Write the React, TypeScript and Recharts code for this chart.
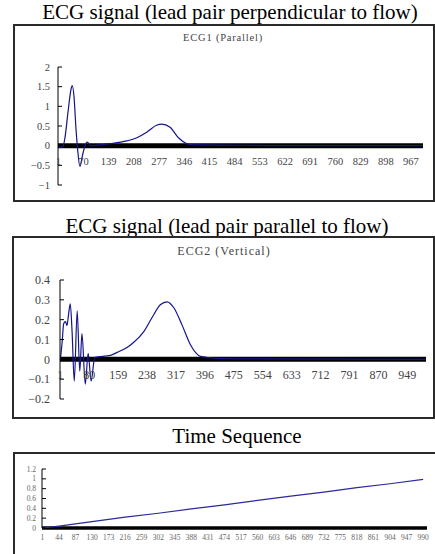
import { LineChart, Line, XAxis, YAxis, ReferenceLine } from 'recharts';

// sample index -> value
const ECG1_SAMPLE = [1, 8, 14, 19, 28, 36, 39, 44, 49, 54, 60, 67, 74, 80, 90, 142, 188, 216, 243, 270, 284, 307, 330, 353, 371, 507, 600, 1000];
const ECG1_VALUE = [0, -0.05, -0.02, 0.2, 0.9, 1.45, 1.53, 1.23, 0.47, -0.12, -0.53, -0.25, 0, 0.09, 0, 0.05, 0.12, 0.2, 0.34, 0.52, 0.55, 0.47, 0.2, 0.05, 0.02, 0.01, 0, 0];

const ECG2_SAMPLE = [1, 6, 10, 15, 19, 23, 28, 33, 39, 47, 54, 60, 69, 77, 85, 95, 138, 156, 183, 201, 229, 256, 274, 293, 311, 333, 356, 384, 429, 520, 1000];
const ECG2_VALUE = [0, 0.09, 0.18, 0.19, 0.17, 0.22, 0.28, 0.14, -0.11, 0.245, -0.06, 0.13, -0.125, 0.03, -0.11, 0.01, 0.02, 0.035, 0.06, 0.085, 0.14, 0.225, 0.275, 0.29, 0.26, 0.175, 0.075, 0.015, 0.005, 0.002, 0];

const TIME_SAMPLE = [1, 44, 130, 216, 302, 388, 474, 560, 646, 732, 818, 904, 990];
const TIME_VALUE = [0, 0.04, 0.13, 0.22, 0.3, 0.39, 0.47, 0.56, 0.65, 0.73, 0.82, 0.9, 0.99];

const ECG1_XTICKS = [1, 70, 139, 208, 277, 346, 415, 484, 553, 622, 691, 760, 829, 898, 967];
const ECG2_XTICKS = [1, 80, 159, 238, 317, 396, 475, 554, 633, 712, 791, 870, 949];
const TIME_XTICKS = [1, 44, 87, 130, 173, 216, 259, 302, 345, 388, 431, 474, 517, 560, 603, 646, 689, 732, 775, 818, 861, 904, 947, 990];

const ECG1_YTICKS = [-1, -0.5, 0, 0.5, 1, 1.5, 2];
const ECG2_YTICKS = [-0.2, -0.1, 0, 0.1, 0.2, 0.3, 0.4];
const TIME_YTICKS = [0, 0.2, 0.4, 0.6, 0.8, 1, 1.2];

const W = 435;
const SERIF = '"Liberation Serif", "Times New Roman", serif';
const LINE = '#14148c';

const toRows = (xs: number[], ys: number[]) => xs.map((x, i) => ({ x, y: ys[i] }));

const fmt = (v: number) => {
  const s = String(Math.round(Math.abs(v) * 10) / 10);
  return v < 0 ? '\u2212' + s : s;
};

interface PanelProps {
  top: number;
  height: number;
  plotLeft: number;
  plotRight: number;
  plotTop: number;
  plotBottom: number;
  data: { x: number; y: number }[];
  xTicks: number[];
  yTicks: number[];
  yDomain: [number, number];
  fontSize: number;
  textColor: string;
  labelGap: number;
  xLabelDy: number;
  band: number;
  curve: 'monotone' | 'linear';
  lineColor: string;
}

function Panel(p: PanelProps) {
  const yAxisW = 40;
  const mTop = p.plotTop - p.top;
  const plotH = p.plotBottom - p.plotTop;
  const zeroY = mTop + (plotH * p.yDomain[1]) / (p.yDomain[1] - p.yDomain[0]);
  return (
    <div style={{ position: 'absolute', left: 0, top: p.top }}>
      <LineChart
        width={W}
        height={p.height}
        data={p.data}
        margin={{ top: mTop, right: W - p.plotRight, bottom: p.top + p.height - p.plotBottom - 1, left: p.plotLeft - yAxisW }}
      >
        <XAxis
          dataKey="x"
          type="number"
          domain={[0, 1000]}
          ticks={p.xTicks}
          interval={0}
          height={1}
          axisLine={false}
          tickLine={false}
          tick={(t: any) => (
            <text x={t.x} y={zeroY + p.xLabelDy} textAnchor="middle" fontFamily={SERIF} fontSize={p.fontSize} fill={p.textColor}>
              {t.payload.value}
            </text>
          )}
        />
        <YAxis
          type="number"
          width={yAxisW}
          domain={p.yDomain}
          ticks={p.yTicks}
          interval={0}
          axisLine={{ stroke: '#000', strokeWidth: 1 }}
          tickLine={false}
          tick={(t: any) => (
            <g>
              <line x1={p.plotLeft} x2={p.plotLeft + 4} y1={t.y} y2={t.y} stroke="#000" />
              <text x={p.plotLeft - p.labelGap} y={t.y} dy="0.35em" textAnchor="end" fontFamily={SERIF} fontSize={p.fontSize} fill={p.textColor}>
                {fmt(t.payload.value)}
              </text>
            </g>
          )}
        />
        <ReferenceLine y={0} stroke="#000" strokeWidth={p.band} />
        <Line type={p.curve} dataKey="y" stroke={p.lineColor} strokeWidth={1.2} dot={false} isAnimationActive={false} />
      </LineChart>
    </div>
  );
}

const titleStyle = (top: number, center: number): React.CSSProperties => ({
  position: 'absolute',
  top,
  left: center - 220,
  width: 440,
  textAlign: 'center',
  fontFamily: SERIF,
  fontSize: 21,
  lineHeight: '21px',
  color: '#000',
  whiteSpace: 'nowrap',
});

const innerTitle = (top: number, center: number, size: number, spacing: number): React.CSSProperties => ({
  position: 'absolute',
  top,
  left: center - 100,
  width: 200,
  textAlign: 'center',
  fontFamily: SERIF,
  fontSize: size,
  lineHeight: `${size}px`,
  letterSpacing: spacing,
  color: '#444',
});

export default function App() {
  return (
    <div style={{ position: 'absolute', left: 0, top: 0, width: W, height: 554, overflow: 'hidden', background: '#fff' }}>
      <div style={titleStyle(2, 230)}>ECG signal (lead pair perpendicular to flow)</div>
      <div style={{ position: 'absolute', left: 13, top: 24, width: 418, height: 174, border: '2px solid #2a2a2a' }} />
      <div style={innerTitle(33, 223, 10.5, 0.8)}>ECG1 (Parallel)</div>
      <Panel
        top={26}
        height={175}
        plotLeft={58}
        plotRight={423}
        plotTop={67}
        plotBottom={185}
        data={toRows(ECG1_SAMPLE, ECG1_VALUE)}
        xTicks={ECG1_XTICKS}
        yTicks={ECG1_YTICKS}
        yDomain={[-1, 2]}
        fontSize={10.5}
        textColor="#444"
        labelGap={8}
        xLabelDy={19}
        band={5}
        curve="monotone"
        lineColor={LINE}
      />

      <div style={titleStyle(216, 227)}>ECG signal (lead pair parallel to flow)</div>
      <div style={{ position: 'absolute', left: 12, top: 236, width: 419, height: 179, border: '2px solid #2a2a2a' }} />
      <div style={innerTitle(245, 224, 12, 1)}>ECG2 (Vertical)</div>
      <Panel
        top={238}
        height={179}
        plotLeft={60}
        plotRight={426}
        plotTop={280}
        plotBottom={399}
        data={toRows(ECG2_SAMPLE, ECG2_VALUE)}
        xTicks={ECG2_XTICKS}
        yTicks={ECG2_YTICKS}
        yDomain={[-0.2, 0.4]}
        fontSize={12}
        textColor="#444"
        labelGap={10}
        xLabelDy={20}
        band={5}
        curve="monotone"
        lineColor={LINE}
      />

      <div style={titleStyle(426, 237)}>Time Sequence</div>
      <div
        style={{
          position: 'absolute',
          left: 13,
          top: 452,
          width: 440,
          height: 100,
          borderTop: '2px solid #2a2a2a',
          borderLeft: '2px solid #2a2a2a',
          borderBottom: '1px solid #aaa',
        }}
      />
      <Panel
        top={454}
        height={99}
        plotLeft={42}
        plotRight={427}
        plotTop={469}
        plotBottom={528}
        data={toRows(TIME_SAMPLE, TIME_VALUE)}
        xTicks={TIME_XTICKS}
        yTicks={TIME_YTICKS}
        yDomain={[0, 1.2]}
        fontSize={7.5}
        textColor="#666"
        labelGap={6}
        xLabelDy={12}
        band={3.5}
        curve="linear"
        lineColor="#2a2a9a"
      />
    </div>
  );
}
